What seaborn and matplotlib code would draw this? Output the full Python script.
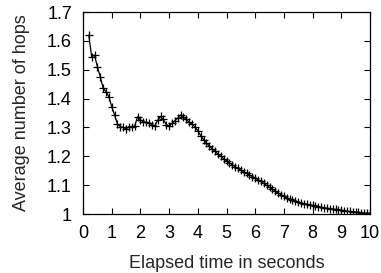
import numpy as np
import pandas as pd
import matplotlib
matplotlib.use("Agg")
import matplotlib.pyplot as plt
import seaborn as sns

time_s = [round(0.2 + 0.1 * i, 1) for i in range(99)]
avg_hops = [
    1.620, 1.545, 1.551, 1.510, 1.476, 1.436, 1.424, 1.407, 1.372, 1.343,
    1.311, 1.303, 1.300, 1.295, 1.303, 1.303, 1.305, 1.337, 1.326, 1.320,
    1.318, 1.316, 1.310, 1.305, 1.325, 1.338, 1.328, 1.310, 1.305, 1.314,
    1.323, 1.333, 1.343, 1.337, 1.328, 1.318, 1.312, 1.302, 1.288, 1.272,
    1.258, 1.246, 1.236, 1.226, 1.217, 1.208, 1.200, 1.192, 1.185, 1.178,
    1.171, 1.164, 1.158, 1.152, 1.146, 1.141, 1.135, 1.130, 1.125, 1.119,
    1.113, 1.106, 1.099, 1.092, 1.086, 1.079, 1.073, 1.067, 1.061, 1.056,
    1.052, 1.048, 1.045, 1.042, 1.039, 1.036, 1.034, 1.032, 1.030, 1.028,
    1.026, 1.024, 1.022, 1.020, 1.019, 1.017, 1.016, 1.014, 1.013, 1.012,
    1.010, 1.009, 1.008, 1.007, 1.006, 1.005, 1.004, 1.003, 1.003,
]
x_ticks = list(range(0, 11))
y_ticks = [1.0, 1.1, 1.2, 1.3, 1.4, 1.5, 1.6, 1.7]
y_labels = ["1", "1.1", "1.2", "1.3", "1.4", "1.5", "1.6", "1.7"]

sns.set_style("ticks")
plt.rcParams['font.family'] = ['Liberation Sans', 'DejaVu Sans']

df = pd.DataFrame({"t": time_s, "h": avg_hops})

fig = plt.figure(figsize=(3.81, 2.73), dpi=100)
ax = fig.add_axes([0.218, 0.216, 0.753, 0.740])
sns.lineplot(data=df, x="t", y="h", ax=ax, color="black", linewidth=0.9,
             marker="+", markersize=6, markeredgewidth=0.9, markeredgecolor="black")

ax.set_xlim(0, 10)
ax.set_ylim(1.0, 1.7)
ax.set_xticks(x_ticks)
ax.set_xticklabels([str(v) for v in x_ticks])
ax.set_yticks(y_ticks)
ax.set_yticklabels(y_labels)
ax.tick_params(direction="in", top=True, right=True, labelsize=13, length=4,
               width=0.8, colors="black")
ax.tick_params(axis="x", pad=8)
ax.tick_params(axis="y", pad=8)
for s in ax.spines.values():
    s.set_visible(True)
    s.set_linewidth(0.9)
    s.set_color("black")
ax.set_xlabel("Elapsed time in seconds", fontsize=13, labelpad=9)
ax.set_ylabel("Average number of hops", fontsize=13, labelpad=12)

fig.savefig("out.png", dpi=100)
